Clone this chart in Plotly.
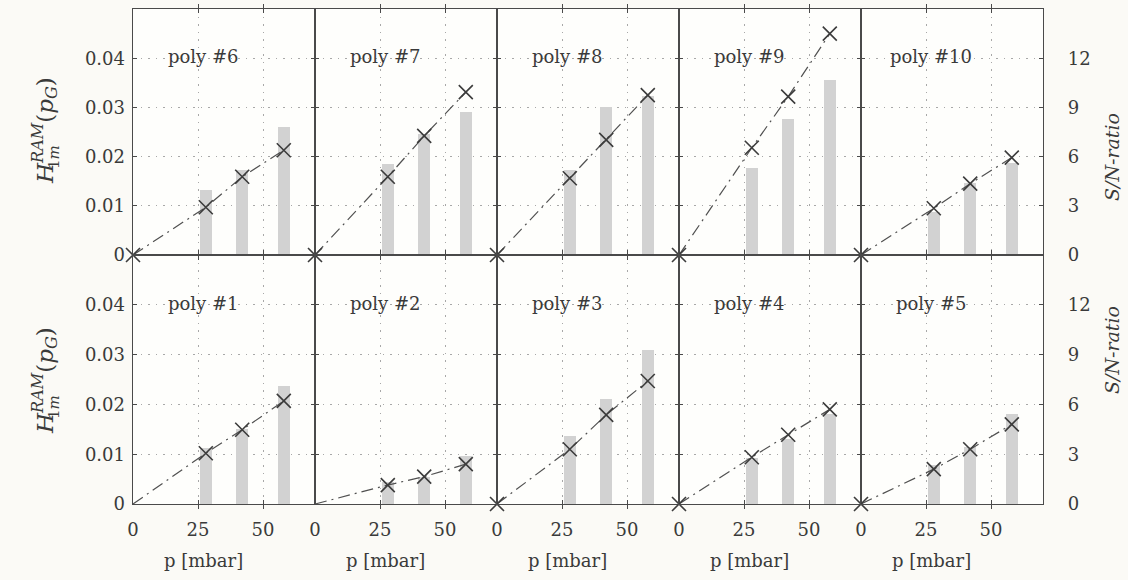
import plotly.graph_objects as go

# Pressure steps [mbar] at which every sample was measured
pressure = [28, 42, 58]

# Upper row: samples 6-10
top_labels = ["poly #6", "poly #7", "poly #8", "poly #9", "poly #10"]
h_top = [
    [0.0097, 0.0159, 0.0213],
    [0.0159, 0.0242, 0.0331],
    [0.0156, 0.0234, 0.0325],
    [0.0218, 0.0322, 0.0450],
    [0.0095, 0.0145, 0.0198],
]
sn_top = [
    [3.95, 5.2, 7.8],
    [5.55, 7.4, 8.7],
    [5.2, 9.0, 9.7],
    [5.3, 8.3, 10.7],
    [2.6, 4.4, 5.6],
]
origin_mark_top = [True, True, True, True, True]

# Lower row: samples 1-5
bottom_labels = ["poly #1", "poly #2", "poly #3", "poly #4", "poly #5"]
h_bottom = [
    [0.0102, 0.0149, 0.0207],
    [0.0038, 0.0055, 0.0080],
    [0.0110, 0.0179, 0.0247],
    [0.0094, 0.0139, 0.0190],
    [0.0070, 0.0110, 0.0160],
]
sn_bottom = [
    [3.4, 4.5, 7.1],
    [1.3, 1.6, 2.9],
    [4.1, 6.3, 9.3],
    [2.8, 3.9, 5.4],
    [2.35, 3.45, 5.4],
]
origin_mark_bottom = [False, False, True, True, True]

x_ticks = [0, 25, 50]
h_ticks = [0, 0.01, 0.02, 0.03, 0.04]
h_tick_text = ["0", "0.01", "0.02", "0.03", "0.04"]
sn_ticks = [0, 3, 6, 9, 12]
sn_tick_text = ["0", "3", "6", "9", "12"]

FONT = "DejaVu Serif"
TXT = "#3a3a3a"
AX = "#4a4a4a"
GRID = "#a8a8a8"
BAR = "#d2d2d2"
MARK = "#3c3c3c"

W, H = 1128, 580
ML, MR, MT, MB = 133, 85, 9, 76
PW, PH = W - ML - MR, H - MT - MB
ROW_SPLIT = 0.503


def px_x(px):
    return (px - ML) / PW


def px_y(py):
    return (H - MB - py) / PH


panels = []
for c in range(5):
    panels.append((0, c, top_labels[c], h_top[c], sn_top[c], origin_mark_top[c]))
for c in range(5):
    panels.append((1, c, bottom_labels[c], h_bottom[c], sn_bottom[c], origin_mark_bottom[c]))

fig = go.Figure()
layout = {}
annotations = []

for k, (row, col, label, h_vals, sn_vals, mark0) in enumerate(panels, start=1):
    xa = "x" if k == 1 else f"x{k}"
    ya_sn = "y" if k == 1 else f"y{k}"
    ya_h = f"y{k + 10}"

    # S/N ratio as grey bars (right-hand scale)
    fig.add_trace(go.Bar(
        x=pressure, y=sn_vals, width=4.6,
        marker=dict(color=BAR, line_width=0),
        xaxis=xa, yaxis=ya_sn, showlegend=False, hoverinfo="skip",
    ))
    # H values: dash-dot line from the origin plus cross markers
    fig.add_trace(go.Scatter(
        x=[0] + pressure, y=[0] + h_vals, mode="lines",
        line=dict(color="#505050", width=1.2, dash="12px,5px,2px,5px"),
        xaxis=xa, yaxis=ya_h, showlegend=False, hoverinfo="skip",
    ))
    mx = ([0] if mark0 else []) + pressure
    my = ([0] if mark0 else []) + h_vals
    fig.add_trace(go.Scatter(
        x=mx, y=my, mode="markers",
        marker=dict(symbol="x-thin", size=14, line=dict(width=1.6, color=MARK)),
        cliponaxis=False,
        xaxis=xa, yaxis=ya_h, showlegend=False,
    ))

    dom_x = [col / 5, (col + 1) / 5]
    dom_y = [ROW_SPLIT, 1] if row == 0 else [0, ROW_SPLIT]
    xkey = "xaxis" if k == 1 else f"xaxis{k}"
    ykey_sn = "yaxis" if k == 1 else f"yaxis{k}"
    ykey_h = f"yaxis{k + 10}"

    layout[xkey] = dict(
        domain=dom_x, anchor=ya_sn, range=[0, 70],
        tickvals=x_ticks, ticktext=[str(v) for v in x_ticks],
        ticks="inside", ticklen=4, tickcolor=AX,
        showline=True, linecolor=AX, linewidth=1.2, mirror="allticks",
        showgrid=True, gridcolor=GRID, griddash="1.5px,6px", gridwidth=1.3,
        zeroline=False, showticklabels=(row == 1), ticklabelstandoff=9,
        tickfont=dict(family=FONT, size=18, color=TXT), fixedrange=True,
    )
    layout[ykey_sn] = dict(
        domain=dom_y, anchor=xa, side="right", range=[0, 15],
        tickvals=sn_ticks, ticktext=sn_tick_text,
        ticks="inside", ticklen=4, tickcolor=AX,
        showline=True, linecolor=AX, linewidth=1.2, mirror="allticks",
        showgrid=True, gridcolor=GRID, griddash="1.5px,6px", gridwidth=1.3,
        zeroline=False, showticklabels=(col == 4), ticklabelstandoff=20,
        tickfont=dict(family=FONT, size=18, color=TXT), fixedrange=True,
    )
    layout[ykey_h] = dict(
        overlaying=ya_sn, anchor=xa, side="left", range=[0, 0.05],
        tickvals=h_ticks, ticktext=h_tick_text,
        ticks="", showline=False, showgrid=False, zeroline=False,
        showticklabels=(col == 0), ticklabelstandoff=7,
        tickfont=dict(family=FONT, size=18, color=TXT), fixedrange=True,
    )

    # sample name inside the panel
    annotations.append(dict(
        x=27, y=12.1, xref=xa, yref=ya_sn, text=label, showarrow=False,
        font=dict(family=FONT, size=18, color=TXT),
        xanchor="center", yanchor="middle",
    ))
    # x-axis title under the lower row
    if row == 1:
        annotations.append(dict(
            x=px_x(133 + 182 * col + 70), y=px_y(560), xref="paper", yref="paper",
            text="p [mbar]", showarrow=False,
            font=dict(family=FONT, size=18, color=TXT),
            xanchor="center", yanchor="middle",
        ))

# left titles (H with stacked sub/superscript) and right titles for both rows
for a_center, sub_center, sn_center in [(131, 157, 157), (381, 407, 350)]:
    annotations.append(dict(
        x=px_x(44), y=px_y(a_center), xref="paper", yref="paper",
        text="<i>H</i><sup><i>RAM</i></sup>(<i>p</i><sub><i>G</i></sub>)",
        textangle=-90, showarrow=False,
        font=dict(family=FONT, size=23, color=TXT),
        xanchor="center", yanchor="middle",
    ))
    annotations.append(dict(
        x=px_x(54), y=px_y(sub_center), xref="paper", yref="paper",
        text="1<i>m</i>", textangle=-90, showarrow=False,
        font=dict(family=FONT, size=15, color=TXT),
        xanchor="center", yanchor="middle",
    ))
    annotations.append(dict(
        x=px_x(1112), y=px_y(sn_center), xref="paper", yref="paper",
        text="<i>S/N-ratio</i>", textangle=-90, showarrow=False,
        font=dict(family=FONT, size=19, color=TXT),
        xanchor="center", yanchor="middle",
    ))

fig.update_layout(
    **layout,
    annotations=annotations,
    width=W, height=H, autosize=False,
    margin=dict(l=ML, r=MR, t=MT, b=MB),
    paper_bgcolor="#fbfaf6", plot_bgcolor="#fefefc",
    bargap=0, showlegend=False,
    font=dict(family=FONT, color=TXT),
)

fig.write_html("out.html")
